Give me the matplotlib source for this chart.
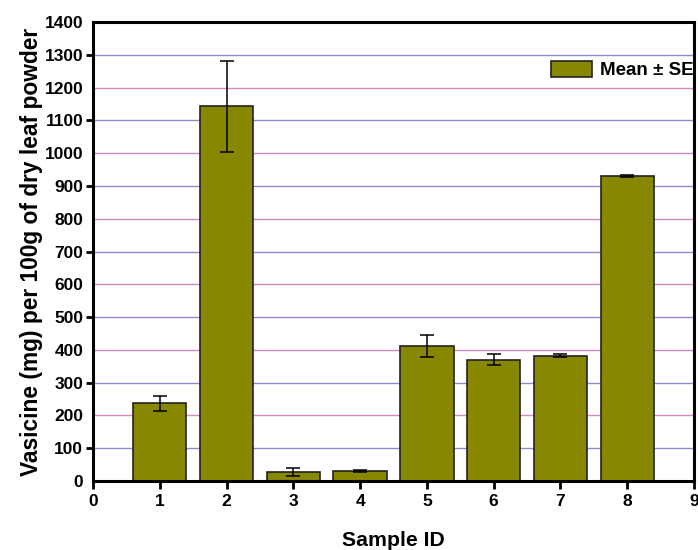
import matplotlib.pyplot as plt
from matplotlib.ticker import FixedLocator

plt.rcParams['font.family'] = ['Liberation Sans', 'DejaVu Sans']
plt.rcParams['font.weight'] = 'bold'

# Datos
muestras = [1, 2, 3, 4, 5, 6, 7, 8]
media = [237, 1143, 28, 30, 411, 370, 382, 930]
error = [22, 138, 13, 3, 33, 17, 5, 4]

fig = plt.figure(figsize=(6.98, 5.5), dpi=100)
ax = fig.add_axes([93 / 698, 1 - 481 / 550, 601 / 698, 459 / 550])

# Líneas de cuadrícula alternadas (azul / rosa)
for v in range(100, 1400, 100):
    color = '#8a8ad8' if (v // 100) % 2 == 1 else '#d28ac4'
    ax.axhline(v, color=color, lw=1.0, zorder=0)

ax.bar(muestras, media, width=0.8, color='#878700', edgecolor='#222222',
       linewidth=1.2, label='Mean \u00b1 SE', zorder=2)
ax.errorbar(muestras, media, yerr=error, fmt='none', ecolor='black',
            elinewidth=1.1, capsize=5, capthick=1.1, zorder=3)

ax.set_xlim(0, 9)
ax.set_ylim(0, 1400)
ax.set_xticks(range(0, 10))
ax.yaxis.set_major_locator(FixedLocator(list(range(100, 1400, 200))))
ax.yaxis.set_minor_locator(FixedLocator(list(range(0, 1401, 200))))
ax.yaxis.set_minor_formatter(plt.FuncFormatter(lambda v, p: f'{int(v)}'))
ax.tick_params(axis='y', which='major', direction='out', length=5, width=2,
               labelsize=12.5, pad=2)
ax.tick_params(axis='y', which='minor', length=0, labelsize=12.5, pad=7)
ax.tick_params(axis='x', direction='out', length=6, width=2, labelsize=12.5)
ax.tick_params(top=False, right=False)

for s in ax.spines.values():
    s.set_linewidth(2.2)

ax.set_xlabel('Sample ID', fontsize=15.3, fontweight='bold', labelpad=16)
ax.set_ylabel('Vasicine (mg) per 100g of dry leaf powder', fontsize=16.4,
              fontweight='bold', labelpad=1)

leg = ax.legend(loc='upper right', bbox_to_anchor=(1.018, 0.94), frameon=False,
                fontsize=13.5, handlelength=2.2, handleheight=0.95,
                handletextpad=0.4, borderaxespad=0.2)
for t in leg.get_texts():
    t.set_fontweight('bold')

fig.savefig('out.png', dpi=100)
